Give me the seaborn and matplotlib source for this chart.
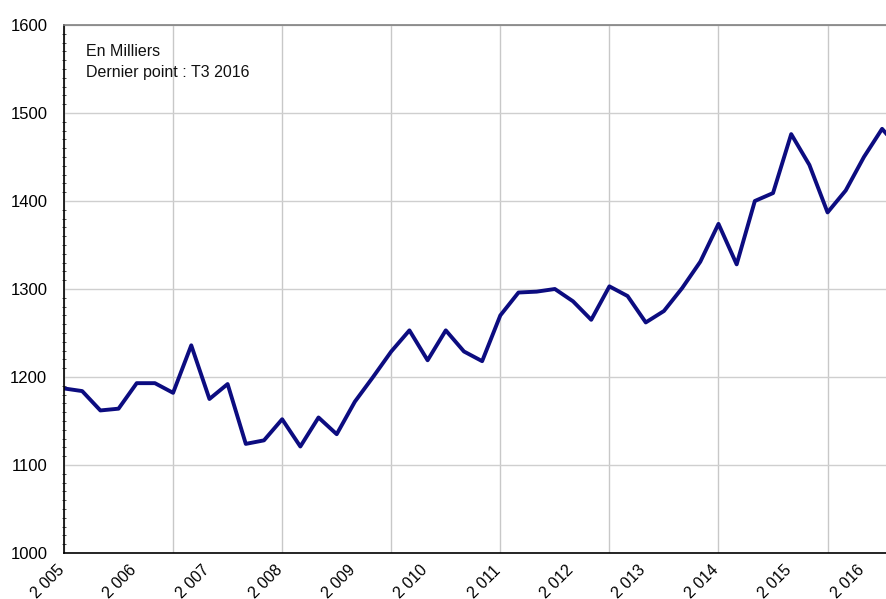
import numpy as np
import pandas as pd
import matplotlib
matplotlib.use("Agg")
import matplotlib.pyplot as plt
import matplotlib.transforms as mtransforms
import seaborn as sns
from matplotlib.ticker import MultipleLocator, FixedLocator

# Quarterly values (thousands), T1 2005 .. T3 2016
values = [
    1187, 1184, 1162, 1164,   # 2005
    1193, 1193, 1182, 1236,   # 2006
    1175, 1192, 1124, 1128,   # 2007
    1152, 1121, 1154, 1135,   # 2008
    1172, 1200, 1229, 1253,   # 2009
    1219, 1253, 1229, 1218,   # 2010
    1270, 1296, 1297, 1300,   # 2011
    1286, 1265, 1303, 1292,   # 2012
    1262, 1275, 1301, 1331,   # 2013
    1374, 1328, 1400, 1409,   # 2014
    1476, 1441, 1387, 1412,   # 2015
    1450, 1482, 1458,         # 2016
]
years = list(range(2005, 2017))
year_labels = ["2 005", "2 006", "2 007", "2 008", "2 009", "2 010",
               "2 011", "2 012", "2 013", "2 014", "2 015", "2 016"]
annotation = "En Milliers\nDernier point : T3 2016"

df = pd.DataFrame({"t": np.arange(len(values)), "v": values})

sns.set_theme(style="white")
plt.rcParams["font.family"] = ["Liberation Sans", "DejaVu Sans"]

W, H = 887, 599
fig = plt.figure(figsize=(W / 100, H / 100), dpi=100)
ax = fig.add_axes([64 / W, (H - 553) / H, (W - 64) / W, (553 - 25) / H])

sns.lineplot(data=df, x="t", y="v", ax=ax, color="#0c0c80", linewidth=2.8)

step = 18.18
ax.set_xlim(0, (W - 64) / step)
ax.set_ylim(1000, 1600)

# y axis
ax.yaxis.set_major_locator(MultipleLocator(100))
ax.yaxis.set_minor_locator(MultipleLocator(10))
ax.tick_params(axis="y", which="major", length=0, pad=12, labelsize=12, labelcolor="black")
ax.tick_params(axis="y", which="minor", left=True, length=3, direction="inout", width=0.6, color="#333333")

# x axis: labels at each year start, gridlines every 6 quarters
ax.xaxis.remove_overlapping_locs = False
ax.xaxis.set_major_locator(FixedLocator([4 * i for i in range(len(years))]))
ax.set_xticklabels(year_labels)
ax.xaxis.set_minor_locator(MultipleLocator(6))
ax.tick_params(axis="x", which="both", length=0, pad=7, labelsize=11.5, labelcolor="black")
shift = mtransforms.ScaledTranslation(3 / 100, 0, fig.dpi_scale_trans)
for lab in ax.get_xticklabels():
    lab.set_rotation(45)
    lab.set_ha("right")
    lab.set_va("top")
    lab.set_rotation_mode("default")
    lab.set_transform(lab.get_transform() + shift)

ax.grid(False)
ax.grid(True, axis="y", which="major", color="#cfcfcf", linewidth=1.0)
ax.grid(True, axis="x", which="minor", color="#c8c8c8", linewidth=1.0)
ax.set_axisbelow(True)

ax.set_xlabel("")
ax.set_ylabel("")

for side in ["left", "bottom"]:
    ax.spines[side].set_color("black")
    ax.spines[side].set_linewidth(1.2)
ax.spines["top"].set_color("#808080")
ax.spines["top"].set_linewidth(1.2)
ax.spines["right"].set_visible(False)

ax.text(86 / W, (H - 77) / H, annotation, transform=fig.transFigure,
        fontsize=11.5, color="#111111", va="baseline", ha="left", linespacing=1.5)

fig.savefig("out.png", dpi=100)
